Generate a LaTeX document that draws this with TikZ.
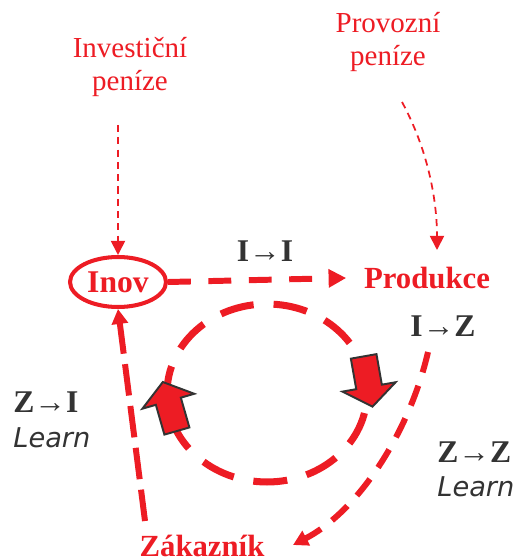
\documentclass[tikz,border=0pt]{standalone}
\usepackage{fontspec}
\setmainfont{Liberation Serif}
\setsansfont{DejaVu Sans}
\usetikzlibrary{arrows.meta, positioning, calc, shapes.geometric}
\definecolor{flowred}{HTML}{ED1C24}
\definecolor{labgray}{HTML}{333333}

\begin{document}
\begin{tikzpicture}[x=0.02cm, y=-0.02cm,
    money/.style={text=flowred, align=center, font=\fontsize{16.5}{18.7}\selectfont},
    place/.style={text=flowred, font=\fontsize{17.5}{20}\selectfont\bfseries, inner sep=2pt},
    inovbox/.style={ellipse, draw=flowred, line width=2.3pt, minimum width=1.92cm, minimum height=1cm, inner sep=0pt, text=flowred, font=\fontsize{18}{20}\selectfont\bfseries},
    flowlab/.style={text=labgray, font=\fontsize{18}{20}\selectfont\bfseries, inner sep=0pt},
    learnlab/.style={text=labgray, font=\fontsize{15.5}{18}\selectfont\sffamily\itshape, inner sep=0pt},
    thinflow/.style={draw=flowred, line width=1pt, dash pattern=on 4pt off 3pt, -{Triangle[length=8pt,width=8pt]}},
    fatflow/.style={draw=flowred, line width=3.4pt, dash pattern=on 13pt off 10pt, -{Triangle[length=10pt,width=10pt]}},
    backflow/.style={draw=flowred, line width=3.4pt, dash pattern=on 18pt off 6pt, -{Triangle[length=8.5pt,width=9pt]}},
    curveflow/.style={draw=flowred, line width=3.4pt, dash pattern=on 12pt off 8pt, -{Triangle[length=8.5pt,width=9pt]}},
    loopline/.style={draw=flowred, line width=4pt, dash pattern=on 0.68cm off 0.4cm},
    pics/bigarrow/.style={code={
        \draw[draw=labgray, fill=flowred, line width=1.1pt, line join=miter]
            (-13,25) -- (-13,-6) -- (-27,-6) -- (0,-26) -- (27,-6) -- (13,-6) -- (13,25) -- cycle;}}]
    \useasboundingbox (0,0) rectangle (518,560);

    % sources of money
    \node[money] (invest) at (130,67) {Investiční\\peníze};
    \node[money] (provoz) at (388,42) {Provozní\\peníze};

    % places
    \node[inovbox] (inov) at (118,282) {Inov};
    \node[place] (prod) at (427,278) {Produkce};
    \node[place, inner sep=0pt, anchor=base] (zak) at (202,556) {Zákazník};

    % flow labels
    \node[flowlab] (ii) at (265,251) {I→I};
    \node[flowlab] (iz) at (443,326) {I→Z};
    \node[flowlab, anchor=west] (zi) at (13,402) {Z→I};
    \node[learnlab, anchor=west] (zilearn) at (13,438) {Learn};
    \node[flowlab, anchor=west] (zz) at (437,452) {Z→Z};
    \node[learnlab, anchor=west] (zzlearn) at (437,487) {Learn};

    \coordinate (invtail) at (118,125);
    \coordinate (provtail) at (402,102);
    \coordinate (prodtop) at (437,250);
    \coordinate (zitail) at (145,521);
    \coordinate (iztail) at (428,352);
    \coordinate (zakend) at (293,545);

    \draw[thinflow] (invtail) -- (inov.north);
    \draw[thinflow] (provtail) .. controls (428,150) and (437,200) .. (prodtop);
    \draw[fatflow] (inov.east) -- ([xshift=-8pt]prod.west);
    \draw[backflow] (zitail) -- (inov.south);
    \draw[curveflow] (iztail) .. controls (410,430) and (360,510) .. (zakend);

    % inner loop
    \draw[loopline] (267,393) ellipse [x radius=2cm, y radius=1.78cm];
    \pic[rotate=16] at (170,407) {bigarrow};
    \pic[rotate=190] at (368,381) {bigarrow};
\end{tikzpicture}
\end{document}
